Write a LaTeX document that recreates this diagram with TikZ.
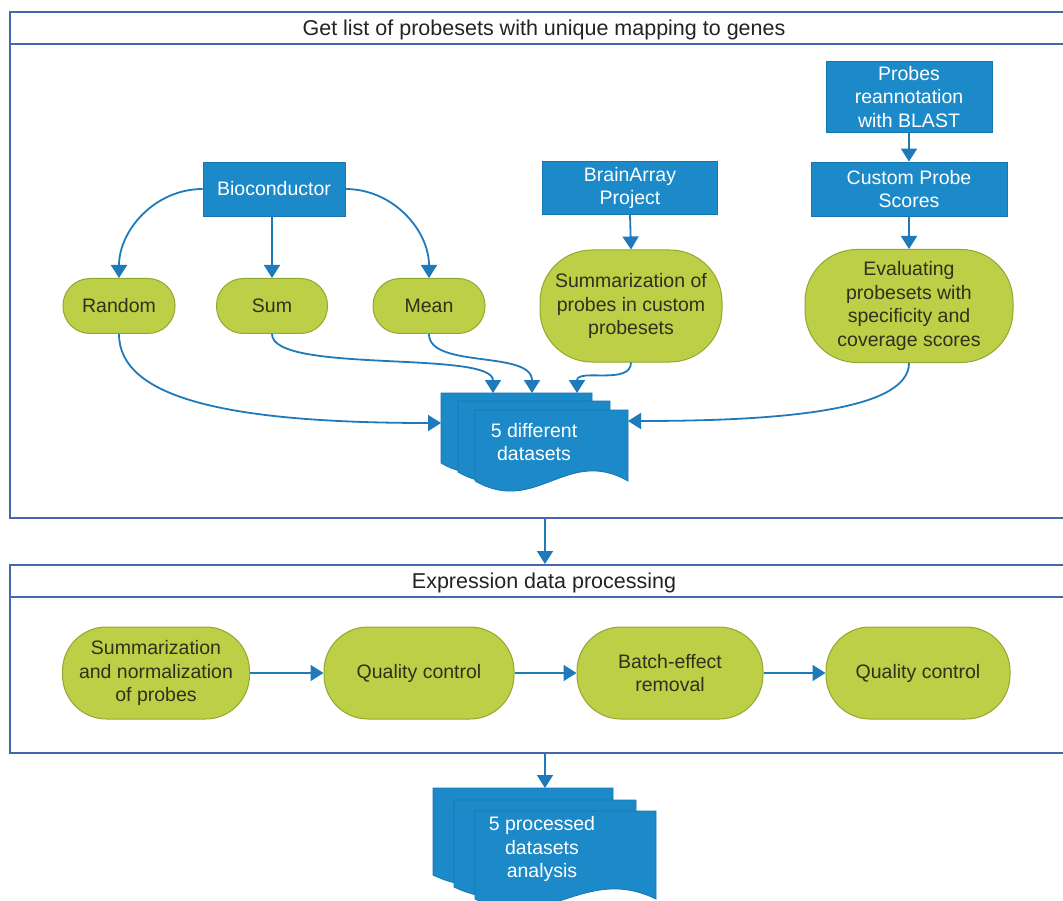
\documentclass[tikz,border=0pt]{standalone}
\usepackage{fontspec}
\setmainfont{Liberation Sans}
\usetikzlibrary{arrows.meta}
\definecolor{bluef}{RGB}{28,138,200}
\definecolor{blued}{RGB}{22,118,178}
\definecolor{greenf}{RGB}{188,207,70}
\definecolor{greend}{RGB}{145,168,48}
\definecolor{greent}{RGB}{45,50,28}
\definecolor{arrowc}{RGB}{30,122,186}
\definecolor{framec}{RGB}{72,102,172}
\definecolor{hdrc}{RGB}{35,35,35}
\newcommand\nodefnt{\fontsize{19.5}{23.5}\selectfont}
\newcommand\hdrfnt{\fontsize{21.5}{25}\selectfont}
\newcommand\mdocshape[5]{%
  \pgfmathsetmacro\mdxb{#1+#3}\pgfmathsetmacro\mdyb{#2+#4}%
  \pgfmathsetmacro\mdxp{#1+0.6*#3}\pgfmathsetmacro\mdxq{#1+0.4*#3}%
  \pgfmathsetmacro\mdyp{#2+#4-#5}\pgfmathsetmacro\mdyq{#2+#4+#5}%
  \filldraw[docsty] (#1,#2) -- (\mdxb,#2) -- (\mdxb,\mdyb) .. controls (\mdxp,\mdyp) and (\mdxq,\mdyq) .. (#1,\mdyb) -- cycle;}
\tikzset{
  docsty/.style={fill=bluef, draw=blued, line width=0.8pt},
  bluebox/.style={rectangle, fill=bluef, draw=blued, line width=0.8pt, text=white, align=center, inner sep=0pt, font=\nodefnt},
  greenbox/.style={rectangle, fill=greenf, draw=greend, line width=1pt, text=greent, align=center, inner sep=0pt, font=\nodefnt},
  doctext/.style={text=white, align=center, inner sep=0pt, font=\nodefnt},
  framebox/.style={rectangle, draw=framec, line width=2pt, inner sep=0pt},
  frameline/.style={draw=framec, line width=2pt},
  hdr/.style={text=hdrc, font=\hdrfnt, inner sep=0pt},
  arr/.style={draw=arrowc, line width=1.8pt, -{Triangle[width=16pt,length=13pt]}}
}
\begin{document}
\begin{tikzpicture}[x=1pt,y=-1pt]
\useasboundingbox (0,0) rectangle (1063,901);
\clip (0,0) rectangle (1063,901);
\fill[white] (0,0) rectangle (1063,901);
% frames
\node[framebox, minimum width=1070pt, minimum height=506pt] (box1) at (545,265) {};
\draw[frameline] (10,44) -- (1080,44);
\node[hdr] (h1) at (544,30) {Get list of probesets with unique mapping to genes};
\node[framebox, minimum width=1070pt, minimum height=188pt] (box2) at (545,659) {};
\draw[frameline] (10,597) -- (1080,597);
\node[hdr] (h2) at (544,583) {Expression data processing};
% top section nodes
\node[bluebox, minimum width=142pt, minimum height=54pt] (bio) at (274,189) {Bioconductor};
\node[bluebox, minimum width=175pt, minimum height=53pt] (brain) at (630,188) {BrainArray\\Project};
\node[bluebox, minimum width=166pt, minimum height=71pt] (blast) at (909,97) {Probes\\reannotation\\with BLAST};
\node[bluebox, minimum width=196pt, minimum height=54pt] (cps) at (909,189) {Custom Probe\\Scores};
\node[greenbox, rounded corners=27pt, minimum width=112pt, minimum height=55pt] (random) at (119,306) {Random};
\node[greenbox, rounded corners=27pt, minimum width=111pt, minimum height=55pt] (sum) at (272,306) {Sum};
\node[greenbox, rounded corners=27pt, minimum width=112pt, minimum height=55pt] (mean) at (429,306) {Mean};
\node[greenbox, rounded corners=52pt, minimum width=182pt, minimum height=112pt] (summ) at (631,306) {Summarization of\\probes in custom\\probesets};
\node[greenbox, rounded corners=52pt, minimum width=208pt, minimum height=113pt] (eval) at (909,306) {Evaluating\\probesets with\\specificity and\\coverage scores};
% datasets multi-document
\mdocshape{441}{393}{151}{70}{35}
\mdocshape{458}{401}{152}{71}{35}
\mdocshape{475}{410}{153}{71}{35}
\node[doctext] (ds) at (534,442) {5 different\\datasets};
\coordinate (dsL) at (441,423);
\coordinate (dsR) at (628,421);
\coordinate (dsT1) at (493,393);
\coordinate (dsT2) at (532,393);
\coordinate (dsT3) at (577,393);
% stage 2 nodes
\node[greenbox, rounded corners=44pt, minimum width=187pt, minimum height=92pt] (sn) at (156,673) {Summarization\\and normalization\\of probes};
\node[greenbox, rounded corners=44pt, minimum width=190pt, minimum height=92pt] (qc1) at (419,673) {Quality control};
\node[greenbox, rounded corners=44pt, minimum width=186pt, minimum height=92pt] (bat) at (670,673) {Batch-effect\\removal};
\node[greenbox, rounded corners=44pt, minimum width=184pt, minimum height=92pt] (qc2) at (918,673) {Quality control};
% processed datasets
\mdocshape{433}{788}{180}{87}{35}
\mdocshape{454}{800}{182}{87}{35}
\mdocshape{475}{811}{181}{88}{35}
\node[doctext] (pds) at (542,849) {5 processed\\datasets\\analysis};
\coordinate (pdsT) at (545,788);
% connectors
\draw[arr] (bio.west) to[out=180,in=90] (random.north);
\draw[arr] (bio.south -| sum.north) -- (sum.north);
\draw[arr] (bio.east) to[out=0,in=90] (mean.north);
\draw[arr] (brain.south) -- (summ.north);
\draw[arr] (blast.south) -- (cps.north);
\draw[arr] (cps.south) -- (eval.north);
\draw[arr] (random.south) .. controls +(0,65) and +(-210,0) .. (dsL);
\draw[arr] (sum.south) .. controls +(0,40) and +(0,-43) .. (dsT1);
\draw[arr] (mean.south) .. controls +(0,35) and +(0,-43) .. (dsT2);
\draw[arr] (summ.south) .. controls +(0,23) and +(0,-25) .. (dsT3);
\draw[arr] (eval.south) .. controls +(0,48) and +(150,0) .. (dsR);
\draw[arr] (box1.south) -- (box2.north);
\draw[arr] (sn.east) -- (qc1.west);
\draw[arr] (qc1.east) -- (bat.west);
\draw[arr] (bat.east) -- (qc2.west);
\draw[arr] (box2.south) -- (pdsT);
\end{tikzpicture}
\end{document}
